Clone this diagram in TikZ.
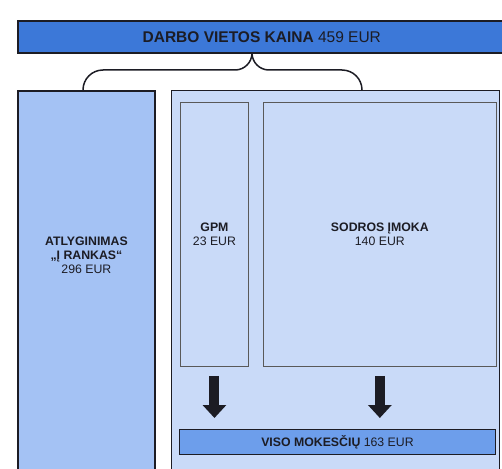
\documentclass[tikz,border=0pt]{standalone}
\usepackage{fontspec}
\setmainfont{Liberation Sans}
\usetikzlibrary{positioning,arrows.meta}
\definecolor{barblue}{HTML}{3C78D8}
\definecolor{netblue}{HTML}{A4C2F4}
\definecolor{taxblue}{HTML}{C9DAF8}
\definecolor{sumblue}{HTML}{6D9EEB}
\definecolor{ink}{HTML}{1C1C24}
\tikzset{
  basic/.style = {draw=ink, rectangle, inner sep=0pt, anchor=north west,
                  text=ink, align=center},
  total/.style = {basic, fill=barblue, line width=1.6pt,
                  font=\fontsize{15.5}{18}\selectfont},
  part/.style  = {basic, fill=netblue, line width=1.8pt},
  taxes/.style = {basic, fill=taxblue, line width=1.4pt},
  item/.style  = {basic, draw=gray!70!black, fill=taxblue, line width=0.9pt,
                  font=\fontsize{12.3}{14}\selectfont},
  sum/.style   = {basic, fill=sumblue, line width=1pt,
                  font=\fontsize{12.3}{14}\selectfont},
  txt/.style   = {text=ink, align=center, font=\fontsize{12.3}{14}\selectfont},
  flow/.style  = {draw=ink, line width=10pt, -{Triangle[width=23pt,length=13pt]}}
}

\begin{document}
\begin{tikzpicture}[x=1pt, y=-1pt]
\path[use as bounding box, clip] (0,0) rectangle (502,468);

% the whole cost on top
\node[total, minimum width=488pt, minimum height=32pt] (cost) at (17,20)
  {\textbf{DARBO VIETOS KAINA} 459 EUR};

% the two parts under the brace
\node[part, minimum width=137pt, minimum height=400pt] (net) at (17,90) {};
\node[taxes, minimum width=328pt, minimum height=400pt] (tax) at (171,90) {};
\node[txt] (netlbl) at ([yshift=-165pt]net.north)
  {\textbf{ATLYGINIMAS}\\\textbf{„Į RANKAS“}\\296 EUR};

% the taxes, side by side
\node[item, minimum width=68pt, minimum height=264pt] (gpm) at (180,102)
  {\textbf{GPM}\\23 EUR};
\node[item, minimum width=233pt, minimum height=264pt, right=14pt of gpm] (sodra)
  {\textbf{SODROS ĮMOKA}\\140 EUR};

\node[sum, minimum width=316pt, minimum height=25pt] (viso) at (179,429)
  {\textbf{VISO MOKESČIŲ} 163 EUR};

% brace from the top bar
\draw[ink, line width=1.5pt] (83,90) to[out=90,in=180] (103,70) -- (235,70)
  to[out=0,in=-90] (252,53) to[out=-90,in=180] (269,70) -- (342,70)
  to[out=0,in=90] (362,90);

% taxes flow into the sum
\draw[flow, shorten <=9pt, shorten >=11pt] (gpm.south) -- (gpm.south |- viso.north);
\draw[flow, shorten <=9pt, shorten >=11pt] (sodra.south) -- (sodra.south |- viso.north);

\end{tikzpicture}
\end{document}
